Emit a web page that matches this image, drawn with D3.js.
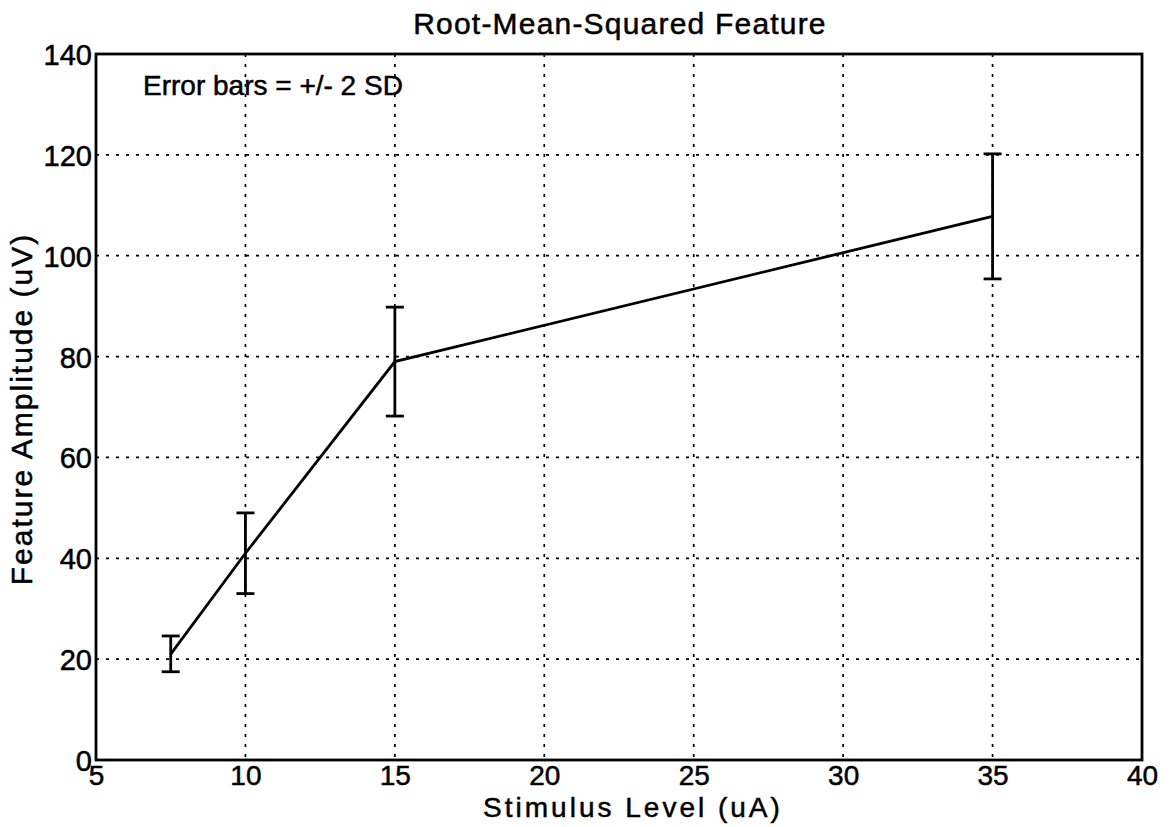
<!DOCTYPE html>
<html>
<head>
<meta charset="utf-8">
<script src="https://cdn.jsdelivr.net/npm/d3@7"></script>
<style>
  html, body { margin: 0; padding: 0; background: #fff; }
  svg text { font-family: "Liberation Sans", Arial, Helvetica, sans-serif; fill: #000; stroke: #000; stroke-width: 0.5px; }
</style>
</head>
<body>
<svg id="chart" width="1172" height="827"></svg>
<script>
// Stimulus levels (uA) and RMS feature amplitude (uV)
const stimulus = [7.5, 10, 15, 35];
const amplitude = [21, 41, 79, 107.8];
const errLow = [17.5, 33, 68.2, 95.4];
const errHigh = [24.6, 49, 89.8, 120.2];

const xTicks = [5, 10, 15, 20, 25, 30, 35, 40];
const yTicks = [0, 20, 40, 60, 80, 100, 120, 140];

const svg = d3.select("#chart");
const plotL = 96, plotR = 1142, plotT = 54, plotB = 760;

const x = d3.scaleLinear().domain([5, 40]).range([plotL, plotR]);
const y = d3.scaleLinear().domain([0, 140]).range([plotB, plotT]);

// dotted grid
const grid = svg.append("g").attr("stroke", "#000").attr("stroke-width", 1.7)
  .attr("stroke-dasharray", "3,7");
grid.selectAll("line.gx").data(xTicks.slice(1, -1)).join("line")
  .attr("x1", d => x(d)).attr("x2", d => x(d)).attr("y1", plotT).attr("y2", plotB);
grid.selectAll("line.gy").data(yTicks.slice(1, -1)).join("line")
  .attr("x1", plotL).attr("x2", plotR).attr("y1", d => y(d)).attr("y2", d => y(d));

// frame
svg.append("rect").attr("x", plotL).attr("y", plotT)
  .attr("width", plotR - plotL).attr("height", plotB - plotT)
  .attr("fill", "none").attr("stroke", "#000").attr("stroke-width", 2.8);

// axes: labels only, tick marks hidden under the grid
const xAxis = svg.append("g").attr("transform", `translate(0,${plotB})`)
  .call(d3.axisBottom(x).tickValues(xTicks).tickSize(0).tickPadding(5).tickFormat(d3.format("d")));
xAxis.select(".domain").remove();
xAxis.selectAll("text").attr("font-size", 28);

const yAxis = svg.append("g").attr("transform", `translate(${plotL},0)`)
  .call(d3.axisLeft(y).tickValues(yTicks).tickSize(0).tickPadding(4).tickFormat(d3.format("d")));
yAxis.select(".domain").remove();
yAxis.selectAll("text").attr("font-size", 29).attr("dy", "0.36em");

// data line
svg.append("path")
  .datum(stimulus.map((s, i) => [s, amplitude[i]]))
  .attr("fill", "none").attr("stroke", "#000").attr("stroke-width", 2.8)
  .attr("d", d3.line().x(d => x(d[0])).y(d => y(d[1])));

// error bars
const eb = svg.append("g").attr("stroke", "#000").attr("stroke-width", 2.8);
const capHalf = 9;
stimulus.forEach((s, i) => {
  const cx = x(s);
  eb.append("line").attr("x1", cx).attr("x2", cx).attr("y1", y(errLow[i])).attr("y2", y(errHigh[i]));
  eb.append("line").attr("x1", cx - capHalf).attr("x2", cx + capHalf).attr("y1", y(errLow[i])).attr("y2", y(errLow[i]));
  eb.append("line").attr("x1", cx - capHalf).attr("x2", cx + capHalf).attr("y1", y(errHigh[i])).attr("y2", y(errHigh[i]));
});

// annotations
svg.append("text").attr("x", 143).attr("y", 95).attr("font-size", 28)
  .text("Error bars = +/- 2 SD");

svg.append("text").attr("x", 620).attr("y", 34).attr("font-size", 30)
  .attr("letter-spacing", 1.2).attr("text-anchor", "middle").text("Root-Mean-Squared Feature");

svg.append("text").attr("x", 633).attr("y", 817).attr("font-size", 28)
  .attr("letter-spacing", 3).attr("text-anchor", "middle").text("Stimulus Level (uA)");

svg.append("text").attr("transform", "translate(32,409) rotate(-90)")
  .attr("font-size", 30).attr("letter-spacing", 2)
  .attr("text-anchor", "middle").text("Feature Amplitude (uV)");
</script>
</body>
</html>
